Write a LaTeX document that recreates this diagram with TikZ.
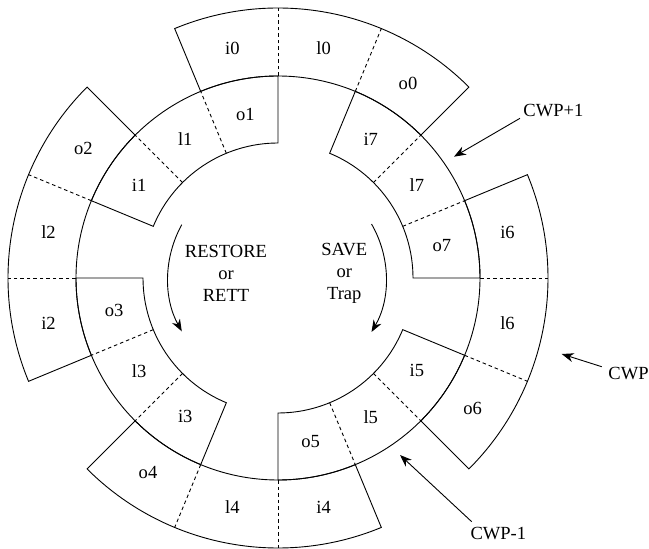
\documentclass[tikz,border=0pt]{standalone}
\usepackage{fontspec}
\setmainfont{Liberation Serif}
\usetikzlibrary{arrows.meta}
\begin{document}
\begin{tikzpicture}[x=1bp,y=1bp,line width=0.9bp,
  split/.style={dash pattern=on 3.5bp off 3bp},
  reg/.style={font=\fontsize{18.6}{21.7}\selectfont,inner sep=0pt},
  ptr/.style={-{Stealth[length=12bp,width=9bp]}},
]
\useasboundingbox (-278,-271) rectangle (371,278);
\def\rA{135}\def\rB{202}\def\rC{270}
% eight overlapping register windows, each: outs, locals, ins
\foreach \k in {0,...,7} {
  \pgfmathsetmacro\a{45+45*\k}
  \pgfmathsetmacro\b{\a+67.5}
  \pgfmathsetmacro\c{\a+22.5}
  \pgfmathsetmacro\d{\a+45}
  \ifodd\k \def\rin{\rA}\def\rout{\rB}\def\rl{167}\else \def\rin{\rB}\def\rout{\rC}\def\rl{234}\fi
  \draw[line join=miter] (\a:\rin) -- (\a:\rout) arc[start angle=\a,end angle=\b,radius=\rout]
     -- (\b:\rin) arc[start angle=\b,end angle=\a,radius=\rin] -- cycle;
  \draw[split] (\c:\rin) -- (\c:\rout);
  \draw[split] (\d:\rin) -- (\d:\rout);
  \node[reg] (o\k) at ({\a+11.25}:\rl) {o\k};
  \node[reg] (l\k) at ({\a+33.75}:\rl) {l\k};
  \node[reg] (i\k) at ({\a+56.25}:\rl) {i\k};
}
% direction of window rotation
\node[reg,align=center] (restore) at (-52,4.7) {RESTORE\\or\\RETT};
\node[reg,align=center] (save) at (66.3,4.7) {SAVE\\or\\Trap};
\draw[ptr] (151:110) arc[start angle=151,end angle=209,radius=110];
\draw[ptr] (30:108) arc[start angle=30,end angle=-30,radius=108];
% window pointers
\node[reg,anchor=west] (cwpn) at (245,167) {CWP+1};
\node[reg,anchor=west] (cwp) at (330,-96) {CWP};
\node[reg] (cwpp) at (220.3,-255.7) {CWP-1};
\coordinate (tn) at (242,159.7);
\coordinate (hn) at (176,121.3);
\coordinate (tc) at (323.7,-88.7);
\coordinate (hc) at (283.7,-76);
\coordinate (tp) at (193.7,-243.7);
\coordinate (hp) at (122,-177);
\draw[ptr] (tn) -- (hn);
\draw[ptr] (tc) -- (hc);
\draw[ptr] (tp) -- (hp);
\end{tikzpicture}
\end{document}
